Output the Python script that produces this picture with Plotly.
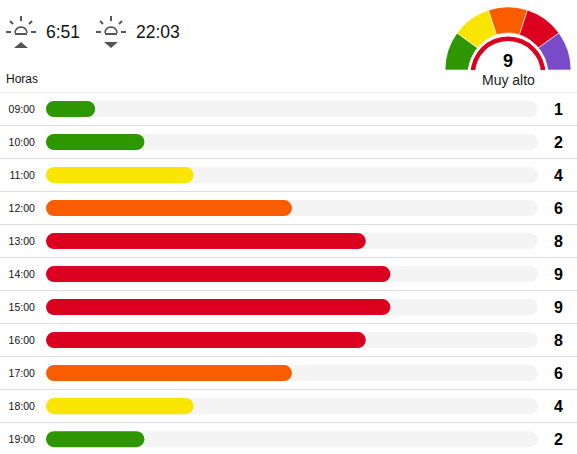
import math
import plotly.graph_objects as go

W, H = 577, 454
FONT = "Liberation Sans"

hours = ["09:00", "10:00", "11:00", "12:00", "13:00", "14:00", "15:00", "16:00", "17:00", "18:00", "19:00"]
uv_values = [1, 2, 4, 6, 8, 9, 9, 8, 6, 4, 2]
bar_percent = [10, 20, 30, 50, 65, 70, 70, 65, 50, 30, 20]
bar_colors = ["#2d9600", "#2d9600", "#f9e500", "#fa5c00", "#dc0020", "#dc0020",
              "#dc0020", "#dc0020", "#fa5c00", "#f9e500", "#2d9600"]
track_percent = [100] * len(hours)
bar_base = [0] * len(hours)
gauge_theta = [162, 126, 90, 54, 18]
gauge_colors = ["#2d9600", "#f9e500", "#fa5c00", "#dc0020", "#7a4bc8"]
gauge_value = "9"
gauge_label = "Muy alto"
sunrise = "6:51"
sunset = "22:03"

def px(x):
    return x / W

def py(y):
    return 1 - y / H

fig = go.Figure()
rows = list(range(len(hours)))
fig.add_trace(go.Bar(y=rows, x=track_percent, base=bar_base, orientation="h", width=0.485,
                     marker=dict(color="#f4f4f4", cornerradius=8, line_width=0),
                     hoverinfo="skip", xaxis="x", yaxis="y"))
fig.add_trace(go.Bar(y=rows, x=bar_percent, base=bar_base, orientation="h", width=0.485,
                     marker=dict(color=bar_colors, cornerradius=8, line_width=0),
                     xaxis="x2", yaxis="y2"))

# Gauge
fig.add_trace(go.Barpolar(theta=gauge_theta, r=[26] * 5, base=[37] * 5, width=[36] * 5,
                          marker=dict(color=gauge_colors, line=dict(color="#ffffff", width=0.6)),
                          subplot="polar"))
fig.add_trace(go.Barpolar(theta=[90], r=[3], base=[37.5], width=[180],
                          marker=dict(color="#ffffff", line_width=0), subplot="polar2"))
fig.add_trace(go.Barpolar(theta=[90], r=[4.5], base=[33], width=[180],
                          marker=dict(color="#dc0020", line_width=0), subplot="polar2"))

shapes = []
for i in range(len(hours) + 1):
    shapes.append(dict(type="line", xref="paper", yref="y", x0=0, x1=1, y0=i - 0.5, y1=i - 0.5,
                       line=dict(color="#dddddd", width=1), layer="below"))
shapes.append(dict(type="rect", xref="paper", yref="paper", x0=px(460), x1=px(556), y0=py(70), y1=py(76),
                   fillcolor="#ffffff", line_width=0, layer="above"))

ICON = "#555555"
def sun(cx, cy, up):
    def seg(x0, y0, x1, y1):
        shapes.append(dict(type="line", xref="paper", yref="paper",
                           x0=px(x0), y0=py(y0), x1=px(x1), y1=py(y1),
                           line=dict(color=ICON, width=2)))
    seg(cx - 15, cy, cx - 10, cy)
    seg(cx + 10, cy, cx + 15, cy)
    seg(cx, cy - 16, cx, cy - 11)
    seg(cx - 11, cy - 11, cx - 8, cy - 8)
    seg(cx + 11, cy - 11, cx + 8, cy - 8)
    seg(cx - 6, cy + 2, cx + 6, cy + 2)
    pts = []
    for a in range(0, 181, 15):
        pts.append((cx + 6 * math.cos(math.radians(a)), cy + 1 - 6 * math.sin(math.radians(a))))
    path = "M " + " L ".join(f"{px(a):.5f},{py(b):.5f}" for a, b in pts)
    shapes.append(dict(type="path", xref="paper", yref="paper", path=path,
                       line=dict(color=ICON, width=1.6)))
    if up:
        tri = [(cx - 7, cy + 16), (cx + 7, cy + 16), (cx, cy + 10)]
    else:
        tri = [(cx - 7, cy + 10), (cx + 7, cy + 10), (cx, cy + 16)]
    path = "M " + " L ".join(f"{px(a):.5f},{py(b):.5f}" for a, b in tri) + " Z"
    shapes.append(dict(type="path", xref="paper", yref="paper", path=path,
                       fillcolor=ICON, line_width=0))

sun(21, 32, True)
sun(111, 32, False)

annotations = [
    dict(text=sunrise, x=px(44), y=py(32), xanchor="left", font=dict(size=17.5, color="#111111")),
    dict(text=sunset, x=px(134), y=py(32), xanchor="left", font=dict(size=17.5, color="#111111")),
    dict(text="Horas", x=px(4), y=py(79.5), xanchor="left", font=dict(size=12, color="#111111")),
    dict(text=gauge_value, x=px(508), y=py(61), xanchor="center", font=dict(size=18, color="#000000", family=FONT, weight="bold")),
    dict(text=gauge_label, x=px(508), y=py(80), xanchor="center", font=dict(size=14, color="#222222")),
]
for r, v in zip(rows, uv_values):
    annotations.append(dict(text=str(v), x=px(558), xref="paper", y=r, yref="y", xanchor="center",
                            font=dict(size=16, color="#000000", family=FONT, weight="bold")))
for a in annotations:
    a.setdefault("xref", "paper")
    a.setdefault("yref", "paper")
    a.setdefault("yanchor", "middle")
    a["showarrow"] = False

x_domain = [px(46), px(538)]
y_domain = [0, py(92.5)]
y_range = [10.45, -0.5]
fig.update_layout(
    width=W, height=H, autosize=False,
    margin=dict(l=0, r=0, t=0, b=0),
    paper_bgcolor="#ffffff", plot_bgcolor="#ffffff",
    showlegend=False, barmode="overlay",
    font=dict(family=FONT),
    xaxis=dict(domain=x_domain, range=[0, 100], visible=False, fixedrange=True),
    xaxis2=dict(domain=x_domain, range=[0, 100], visible=False, fixedrange=True, anchor="y2", overlaying="x"),
    yaxis=dict(domain=y_domain, range=y_range, tickmode="array", tickvals=rows, ticktext=hours,
               showgrid=False, zeroline=False, showline=False, ticks="outside", ticklen=8,
               tickcolor="rgba(0,0,0,0)", tickfont=dict(size=10.5, color="#111111", family=FONT),
               fixedrange=True),
    yaxis2=dict(domain=y_domain, range=y_range, visible=False, fixedrange=True, anchor="x2", overlaying="y"),
    polar=dict(domain=dict(x=[px(445), px(571)], y=[py(70), py(7)]),
               sector=[0, 180], bgcolor="rgba(0,0,0,0)",
               radialaxis=dict(visible=False, range=[0, 63]),
               angularaxis=dict(visible=False, direction="counterclockwise", rotation=0)),
    polar2=dict(domain=dict(x=[px(467.5), px(548.5)], y=[py(74), py(33.5)]),
                sector=[0, 180], bgcolor="rgba(0,0,0,0)",
                radialaxis=dict(visible=False, range=[0, 40.5]),
                angularaxis=dict(visible=False, direction="counterclockwise", rotation=0)),
    shapes=shapes, annotations=annotations,
)
fig.write_html("out.html", config={"displayModeBar": False},
               post_script="document.body.style.margin='0';document.documentElement.style.overflow='hidden';")
